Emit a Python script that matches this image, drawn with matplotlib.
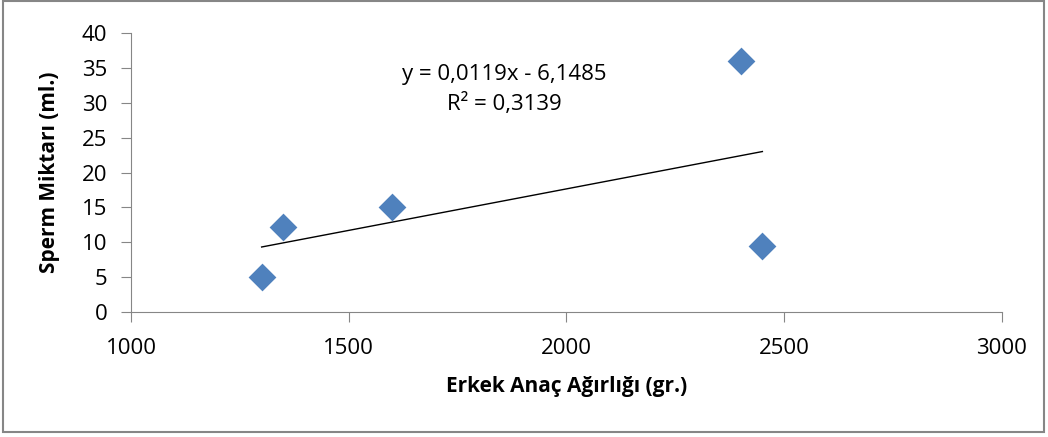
import matplotlib.pyplot as plt
import numpy as np
from matplotlib.patches import Rectangle

plt.rcParams['font.family'] = ['Open Sans', 'DejaVu Sans']

# data
agirlik = [1300, 1350, 1600, 2400, 2450]
sperm = [5, 12.2, 15, 36, 9.5]
slope = 0.0119
intercept = -6.1485
r2 = 0.3139

fig = plt.figure(figsize=(10.48, 4.37), dpi=100)
ax = fig.add_axes([0.125, 0.286, 0.831, 0.6385])

ax.scatter(agirlik, sperm, marker='D', s=200, color='#4F81BD', zorder=3, linewidths=0)

xs = np.array([min(agirlik), max(agirlik)])
ax.plot(xs, slope * xs + intercept, color='black', lw=1)

ax.text(1858, 34, 'y = 0,0119x - 6,1485', fontsize=16, ha='center', va='center')
ax.text(1858, 29.8, 'R² = 0,3139', fontsize=16, ha='center', va='center')

ax.set_xlim(1000, 3000)
ax.set_ylim(0, 40)
ax.set_xticks(range(1000, 3001, 500))
ax.set_yticks(range(0, 41, 5))
for s in ['top', 'right']:
    ax.spines[s].set_visible(False)
for s in ['left', 'bottom']:
    ax.spines[s].set_color('#868686')
ax.tick_params(colors='#868686', labelcolor='black', labelsize=16, length=7, direction='out')
ax.tick_params(axis='y', pad=10)
ax.tick_params(axis='x', pad=12)

ax.set_xlabel('Erkek Anaç Ağırlığı (gr.)', fontsize=15, fontweight='bold', labelpad=12)
ax.set_ylabel('Sperm Miktarı (ml.)', fontsize=15, fontweight='bold', labelpad=16)

fig.patches.append(Rectangle((0.003, 0.012), 0.993, 0.985, transform=fig.transFigure,
                             fill=False, edgecolor='#868686', lw=1.5))

fig.savefig('out.png', dpi=100)
